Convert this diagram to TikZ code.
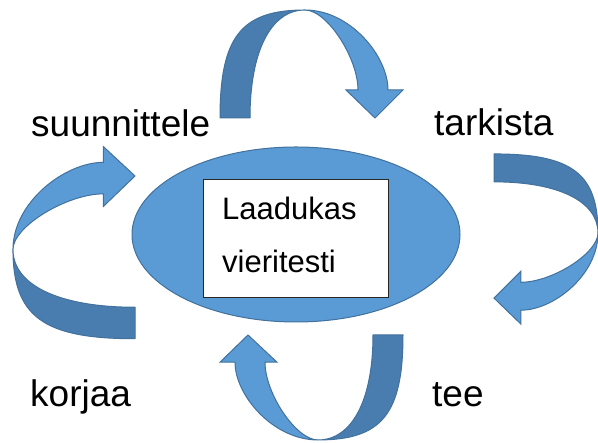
\documentclass[tikz,border=0pt]{standalone}
\usepackage{fontspec}
\setmainfont{Liberation Sans}
\usetikzlibrary{shapes.geometric}
\definecolor{lightblue}{HTML}{5B9BD5}
\definecolor{darkblue}{HTML}{4A7DAF}
\definecolor{edgeblue}{HTML}{41719C}
\tikzset{
  backband/.style={fill=darkblue, draw=edgeblue, line width=1pt, line join=round},
  frontband/.style={fill=lightblue, draw=edgeblue, line width=1pt, line join=miter},
  wordlabel/.style={anchor=base west, inner sep=0pt, font=\fontsize{37}{44}\selectfont},
  innerword/.style={anchor=base west, inner sep=0pt, font=\fontsize{31}{37}\selectfont},
}
% #1,#2: base centre (screen px), #3 rotation, #4 xscale, #5 yscale
\newcommand\curvedarrow[5]{%
\begin{scope}[shift={(#1,443-#2)}, rotate=#3, xscale=#4, yscale=#5]
  \path[backband] (-85,0) .. controls (-85,81) and (-64,108) .. (0,108)
     .. controls (-34,108) and (-55,67) .. (-55,0) -- cycle;
  \path[frontband] (0,108) .. controls (45,108) and (83,62) .. (83,28)
     -- (98,28) -- (70,0) -- (41,28) -- (53,28)
     .. controls (53,60) and (22,108) .. (0,108) -- cycle;
\end{scope}}
\begin{document}
\begin{tikzpicture}[x=1pt,y=1pt]
  \path[use as bounding box, fill=white] (0,0) rectangle (598,443);
  % arrows
  \curvedarrow{305}{118}{0}{1}{1}
  \curvedarrow{494}{233}{-90}{0.93}{0.963}
  \curvedarrow{318}{335}{180}{1}{0.972}
  \curvedarrow{135}{249.5}{90}{1.05}{1.13}
  % hub
  \node[ellipse, draw=edgeblue, fill=lightblue, line width=1pt,
        minimum width=328pt, minimum height=175pt, inner sep=0pt] (hub) at (296,443-234.5) {};
  \node[draw=black!85, fill=white, line width=0.8pt,
        minimum width=185pt, minimum height=118pt, inner sep=0pt] (box) at (295.5,443-238) {};
  \node[innerword] (laadukas) at (222,443-220) {Laadukas};
  \node[innerword] (vieritesti) at (222,443-273) {vieritesti};
  % labels
  \node[wordlabel] (suunnittele) at (31,443-137) {suunnittele};
  \node[wordlabel] (tarkista) at (434,443-136) {tarkista};
  \node[wordlabel] (korjaa) at (30,443-407) {korjaa};
  \node[wordlabel] (tee) at (432,443-407) {tee};
\end{tikzpicture}
\end{document}
